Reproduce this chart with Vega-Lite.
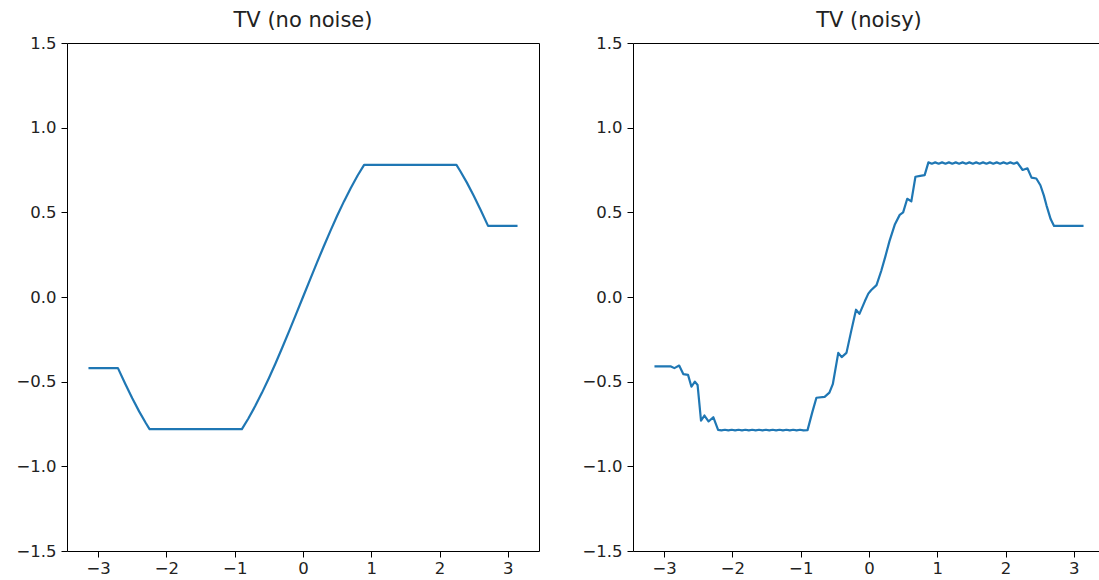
{
  "$schema": "https://vega.github.io/schema/vega-lite/v6.json",
  "background": "white",
  "padding": {"left": 15, "top": 9, "right": 0, "bottom": 0},
  "spacing": 41,
  "config": {
    "font": "DejaVu Sans",
    "view": {"stroke": "#000", "strokeWidth": 1},
    "axis": {"grid": false, "domain": false, "tickColor": "#000", "tickSize": 6, "labelColor": "#222", "labelFontSize": 16.5, "labelFont": "DejaVu Sans", "labelPadding": 5, "title": null},
    "axisX": {"labelPadding": 3},
    "title": {"fontSize": 21, "font": "DejaVu Sans", "fontWeight": "normal", "color": "#222", "offset": 4}
  },
  "datasets": {
    "clean": [
      {"x": -3.1416, "y": -0.42}, {"x": -3.0, "y": -0.42}, {"x": -2.9, "y": -0.42}, {"x": -2.8, "y": -0.42},
      {"x": -2.71, "y": -0.42}, {"x": -2.6, "y": -0.5155}, {"x": -2.5, "y": -0.5985}, {"x": -2.4, "y": -0.6755},
      {"x": -2.3, "y": -0.7457}, {"x": -2.247, "y": -0.78}, {"x": -2.0, "y": -0.78}, {"x": -1.5, "y": -0.78},
      {"x": -1.0, "y": -0.78}, {"x": -0.895, "y": -0.78}, {"x": -0.8, "y": -0.7174}, {"x": -0.7, "y": -0.6442},
      {"x": -0.6, "y": -0.5646}, {"x": -0.5, "y": -0.4794}, {"x": -0.4, "y": -0.3894}, {"x": -0.3, "y": -0.2955},
      {"x": -0.2, "y": -0.1987}, {"x": -0.1, "y": -0.0998}, {"x": 0.0, "y": 0.0}, {"x": 0.1, "y": 0.0998},
      {"x": 0.2, "y": 0.1987}, {"x": 0.3, "y": 0.2955}, {"x": 0.4, "y": 0.3894}, {"x": 0.5, "y": 0.4794},
      {"x": 0.6, "y": 0.5646}, {"x": 0.7, "y": 0.6442}, {"x": 0.8, "y": 0.7174}, {"x": 0.895, "y": 0.78},
      {"x": 1.5, "y": 0.78}, {"x": 2.0, "y": 0.78}, {"x": 2.247, "y": 0.78}, {"x": 2.3, "y": 0.7457},
      {"x": 2.4, "y": 0.6755}, {"x": 2.5, "y": 0.5985}, {"x": 2.6, "y": 0.5155}, {"x": 2.71, "y": 0.42},
      {"x": 3.0, "y": 0.42}, {"x": 3.1416, "y": 0.42}
    ],
    "noisy": [
      {"x": -3.1416, "y": -0.41}, {"x": -3.0, "y": -0.41}, {"x": -2.9, "y": -0.41}, {"x": -2.85, "y": -0.42},
      {"x": -2.78, "y": -0.405}, {"x": -2.72, "y": -0.455}, {"x": -2.65, "y": -0.46}, {"x": -2.6, "y": -0.53},
      {"x": -2.55, "y": -0.5}, {"x": -2.51, "y": -0.52}, {"x": -2.46, "y": -0.73}, {"x": -2.41, "y": -0.7},
      {"x": -2.35, "y": -0.735}, {"x": -2.28, "y": -0.71}, {"x": -2.21, "y": -0.785},
      {"x": -2.16, "y": -0.788}, {"x": -2.11, "y": -0.784}, {"x": -2.06, "y": -0.788}, {"x": -2.01, "y": -0.784},
      {"x": -1.96, "y": -0.788}, {"x": -1.91, "y": -0.784}, {"x": -1.86, "y": -0.788}, {"x": -1.81, "y": -0.784},
      {"x": -1.76, "y": -0.788}, {"x": -1.71, "y": -0.784}, {"x": -1.66, "y": -0.788}, {"x": -1.61, "y": -0.784},
      {"x": -1.56, "y": -0.788}, {"x": -1.51, "y": -0.784}, {"x": -1.46, "y": -0.788}, {"x": -1.41, "y": -0.784},
      {"x": -1.36, "y": -0.788}, {"x": -1.31, "y": -0.784}, {"x": -1.26, "y": -0.788}, {"x": -1.21, "y": -0.784},
      {"x": -1.16, "y": -0.788}, {"x": -1.11, "y": -0.784}, {"x": -1.06, "y": -0.788}, {"x": -1.01, "y": -0.784},
      {"x": -0.96, "y": -0.788}, {"x": -0.9, "y": -0.786}, {"x": -0.83, "y": -0.68}, {"x": -0.77, "y": -0.595},
      {"x": -0.65, "y": -0.59}, {"x": -0.58, "y": -0.565}, {"x": -0.53, "y": -0.515}, {"x": -0.45, "y": -0.33},
      {"x": -0.4, "y": -0.355}, {"x": -0.33, "y": -0.33}, {"x": -0.26, "y": -0.2}, {"x": -0.19, "y": -0.075},
      {"x": -0.14, "y": -0.1}, {"x": -0.06, "y": -0.024}, {"x": -0.01, "y": 0.02}, {"x": 0.03, "y": 0.04},
      {"x": 0.11, "y": 0.07}, {"x": 0.18, "y": 0.155}, {"x": 0.24, "y": 0.24}, {"x": 0.3, "y": 0.33},
      {"x": 0.38, "y": 0.43}, {"x": 0.45, "y": 0.485}, {"x": 0.5, "y": 0.5}, {"x": 0.56, "y": 0.58},
      {"x": 0.62, "y": 0.565}, {"x": 0.68, "y": 0.71}, {"x": 0.75, "y": 0.715}, {"x": 0.815, "y": 0.72},
      {"x": 0.87, "y": 0.795}, {"x": 0.92, "y": 0.787}, {"x": 0.97, "y": 0.795}, {"x": 1.02, "y": 0.787},
      {"x": 1.07, "y": 0.795}, {"x": 1.12, "y": 0.787}, {"x": 1.17, "y": 0.795}, {"x": 1.22, "y": 0.787},
      {"x": 1.27, "y": 0.795}, {"x": 1.32, "y": 0.787}, {"x": 1.37, "y": 0.795}, {"x": 1.42, "y": 0.787},
      {"x": 1.47, "y": 0.795}, {"x": 1.52, "y": 0.787}, {"x": 1.57, "y": 0.795}, {"x": 1.62, "y": 0.787},
      {"x": 1.67, "y": 0.795}, {"x": 1.72, "y": 0.787}, {"x": 1.77, "y": 0.795}, {"x": 1.82, "y": 0.787},
      {"x": 1.87, "y": 0.795}, {"x": 1.92, "y": 0.787}, {"x": 1.97, "y": 0.795}, {"x": 2.02, "y": 0.787},
      {"x": 2.07, "y": 0.795}, {"x": 2.12, "y": 0.787}, {"x": 2.17, "y": 0.795}, {"x": 2.25, "y": 0.75},
      {"x": 2.32, "y": 0.76}, {"x": 2.38, "y": 0.705}, {"x": 2.45, "y": 0.7}, {"x": 2.51, "y": 0.66},
      {"x": 2.56, "y": 0.6}, {"x": 2.6, "y": 0.54}, {"x": 2.66, "y": 0.46}, {"x": 2.71, "y": 0.42},
      {"x": 3.0, "y": 0.42}, {"x": 3.1416, "y": 0.42}
    ]
  },
  "hconcat": [
    {
      "title": "TV (no noise)",
      "width": 472,
      "height": 508,
      "data": {"name": "clean"},
      "mark": {"type": "line", "color": "#1f77b4", "strokeWidth": 2.2, "strokeJoin": "round"},
      "encoding": {
        "x": {"field": "x", "type": "quantitative", "scale": {"domain": [-3.456, 3.456], "nice": false, "zero": false}, "axis": {"values": [-3, -2, -1, 0, 1, 2, 3], "format": "d"}},
        "y": {"field": "y", "type": "quantitative", "scale": {"domain": [-1.5, 1.5], "nice": false, "zero": false}, "axis": {"values": [-1.5, -1, -0.5, 0, 0.5, 1, 1.5], "format": ".1f"}}
      }
    },
    {
      "title": "TV (noisy)",
      "width": 472,
      "height": 508,
      "data": {"name": "noisy"},
      "mark": {"type": "line", "color": "#1f77b4", "strokeWidth": 2.2, "strokeJoin": "round"},
      "encoding": {
        "x": {"field": "x", "type": "quantitative", "scale": {"domain": [-3.456, 3.456], "nice": false, "zero": false}, "axis": {"values": [-3, -2, -1, 0, 1, 2, 3], "format": "d"}},
        "y": {"field": "y", "type": "quantitative", "scale": {"domain": [-1.5, 1.5], "nice": false, "zero": false}, "axis": {"values": [-1.5, -1, -0.5, 0, 0.5, 1, 1.5], "format": ".1f"}}
      }
    }
  ]
}
